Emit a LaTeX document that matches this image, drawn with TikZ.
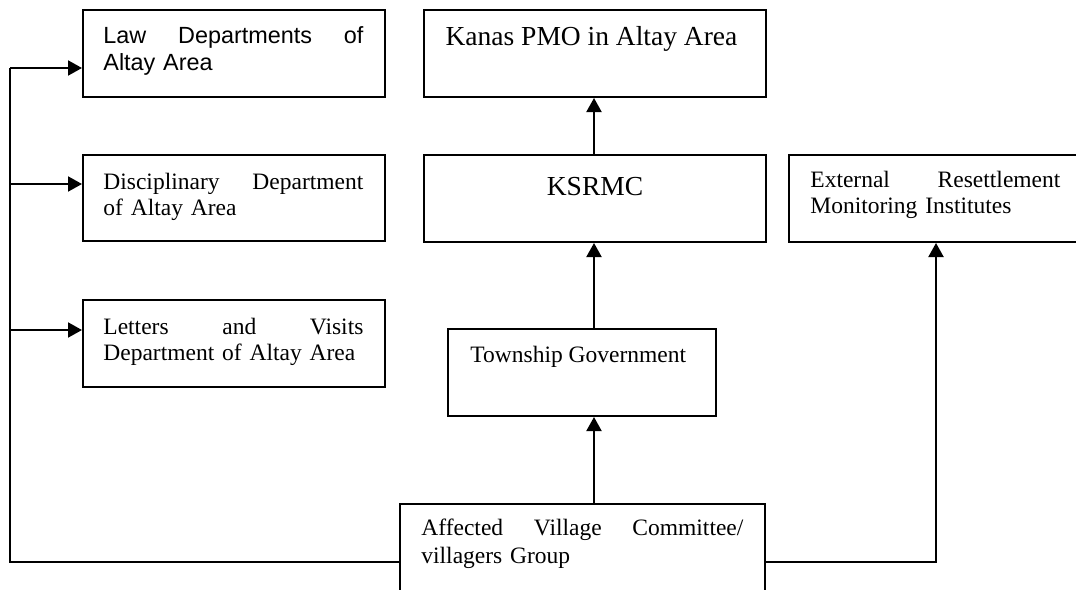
\documentclass[tikz,border=0pt]{standalone}
\usepackage{fontspec}
\setmainfont{Liberation Serif}
\newfontfamily\arialf{Liberation Sans}
\usetikzlibrary{arrows.meta}
\begin{document}
\begin{tikzpicture}[x=0.5pt,y=0.5pt,
  box/.style={draw,line width=1pt,inner sep=0pt},
  txt/.style={inner sep=0pt,anchor=base west,align=left},
  serifsm/.style={font=\fontsize{11.75}{13}\selectfont},
  seriflg/.style={font=\fontsize{13.75}{16}\selectfont},
  conn/.style={line width=1pt},
  arr/.style={conn,-{Triangle[length=7pt,width=7.5pt]}}]
\useasboundingbox (0,0) rectangle (1076,-589);
\clip (0,0) rectangle (1076,-589);
% boxes
\node[box,minimum width=151pt,minimum height=43.5pt] (law) at (234,-53.5) {};
\node[box,minimum width=151pt,minimum height=43pt] (disc) at (234,-198) {};
\node[box,minimum width=151pt,minimum height=43.5pt] (lett) at (234,-343.5) {};
\node[box,minimum width=171pt,minimum height=43.5pt] (kanas) at (595,-53.5) {};
\node[box,minimum width=171pt,minimum height=43.5pt] (ksrmc) at (595,-198.5) {};
\node[box,minimum width=149pt,minimum height=43.5pt] (ext) at (938,-198.5) {};
\node[box,minimum width=134pt,minimum height=43.5pt] (town) at (582,-372.5) {};
\node[box,minimum width=182.5pt,minimum height=58pt] (aff) at (582.5,-562) {};
% texts
\node[txt,text width=130pt,font=\arialf\fontsize{11.7}{13.5}\selectfont] (lawT) at (103,-43)
  {\hbox to 130pt{Law\hfill Departments\hfill of}\\Altay Area};
\node[txt,serifsm,text width=130pt] (discT) at (103,-189)
  {\hbox to 130pt{Disciplinary\hfill Department}\\of Altay Area};
\node[txt,serifsm,text width=130pt] (lettT) at (103,-334)
  {\hbox to 130pt{Letters\hfill and\hfill Visits}\\Department of Altay Area};
\node[seriflg,inner sep=0pt,anchor=base] (kanasT) at (591.5,-46) {Kanas PMO in Altay Area};
\node[seriflg,inner sep=0pt,anchor=base] (ksrmcT) at (595,-195) {KSRMC};
\node[txt,serifsm,text width=125pt] (extT) at (810,-187)
  {\hbox to 125pt{External\hfill Resettlement}\\Monitoring Institutes};
\node[txt,serifsm] (townT) at (470,-362) {Township Government};
\node[txt,font=\fontsize{11.75}{14}\selectfont,text width=161pt] (affT) at (421,-535)
  {\hbox to 161pt{Affected\hfill Village\hfill Committee/}\\villagers Group};
% connector coordinates
\coordinate (tTop) at (10,-68);
\coordinate (tDisc) at (10,-184);
\coordinate (tLett) at (10,-330);
\coordinate (tBot) at (10,-562);
\coordinate (rx) at (936,0);
\coordinate (cx) at (594,0);
% connectors
\draw[conn] (aff.west) -- (tBot) -- (tTop);
\draw[arr] (tTop) -- (law.west |- tTop);
\draw[arr] (tDisc) -- (disc.west |- tDisc);
\draw[arr] (tLett) -- (lett.west |- tLett);
\draw[arr] (aff.east) -| (rx |- ext.south);
\draw[arr] (cx |- aff.north) -- (cx |- town.south);
\draw[arr] (cx |- town.north) -- (cx |- ksrmc.south);
\draw[arr] (cx |- ksrmc.north) -- (cx |- kanas.south);
\end{tikzpicture}
\end{document}
